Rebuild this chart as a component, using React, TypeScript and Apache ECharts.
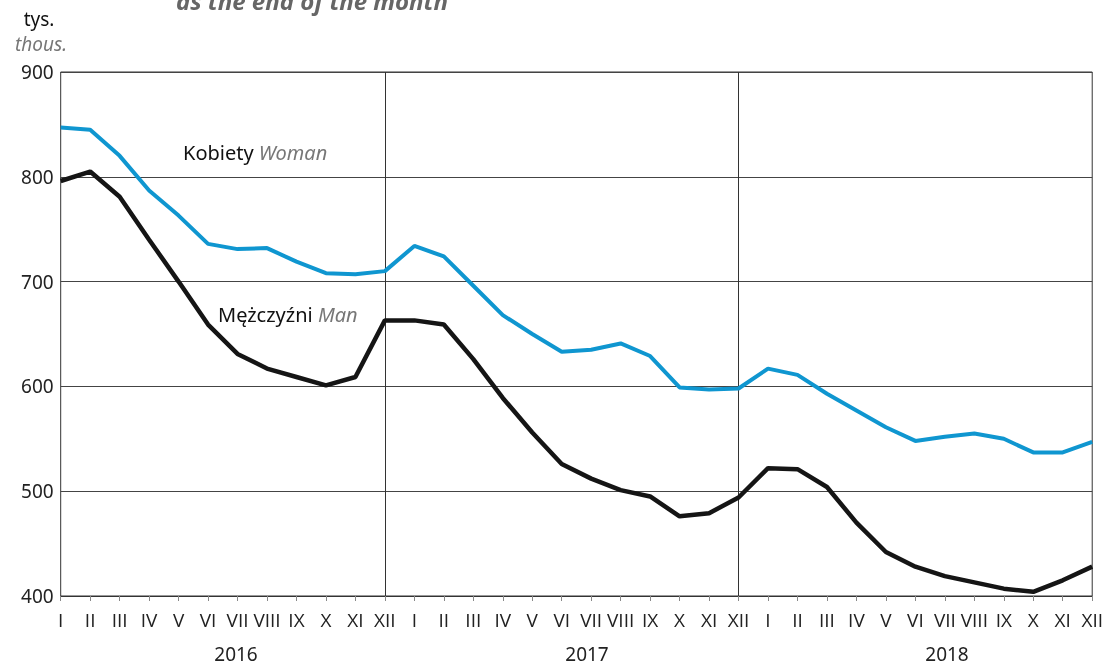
import React, { useEffect, useRef } from "react";
import * as echarts from "echarts";

const months = ["I", "II", "III", "IV", "V", "VI", "VII", "VIII", "IX", "X", "XI", "XII"];
const categories = [...months, ...months, ...months].map((m, i) => `${m}_${Math.floor(i / 12)}`);
const years = ["2016", "2017", "2018"];

const women = [
  847, 845, 820, 787, 763, 736, 731, 732, 719, 708, 707, 710,
  734, 724, 696, 668, 650, 633, 635, 641, 629, 599, 597, 598,
  617, 611, 593, 577, 561, 548, 552, 555, 550, 537, 537, 547,
];
const men = [
  796, 805, 781, 740, 700, 659, 631, 617, 609, 601, 609, 663,
  663, 659, 626, 589, 556, 526, 512, 501, 495, 476, 479, 494,
  522, 521, 504, 470, 442, 428, 419, 413, 407, 404, 415, 428,
];

const FONT = "Noto Sans";
const XFONT = "Open Sans";

export default function App() {
  const ref = useRef<HTMLDivElement>(null);
  useEffect(() => {
    if (!ref.current) return;
    const chart = echarts.init(ref.current, null, { renderer: "svg" });
    const yearX = [236, 587, 947];
    chart.setOption({
      animation: false,
      textStyle: { fontFamily: FONT },
      grid: {
        left: 60.7,
        right: 13,
        top: 72,
        bottom: 69,
        show: true,
        borderColor: "#333",
        borderWidth: 1,
        backgroundColor: "transparent",
      },
      xAxis: {
        type: "category",
        data: categories,
        boundaryGap: false,
        axisLine: { show: true, lineStyle: { color: "#333", width: 1 } },
        axisTick: {
          show: true,
          interval: 0,
          length: 5,
          lineStyle: { color: "#888" },
        },
        axisLabel: {
          interval: 0,
          fontSize: 19,
          color: "#222",
          fontFamily: XFONT,
          margin: 14,
          formatter: (v: string) => v.split("_")[0],
        },
        splitLine: {
          show: true,
          interval: (index: number) => index === 11 || index === 23,
          lineStyle: { color: "#333", width: 1 },
        },
      },
      yAxis: {
        type: "value",
        min: 400,
        max: 900,
        interval: 100,
        axisLine: { show: false },
        axisTick: { show: false },
        axisLabel: { fontSize: 19, color: "#222", fontFamily: FONT, margin: 7 },
        splitLine: { show: true, lineStyle: { color: "#444", width: 1 } },
      },
      series: [
        {
          name: "Kobiety",
          type: "line",
          data: women,
          symbol: "none",
          lineStyle: { color: "#0f96d0", width: 4 },
          z: 3,
        },
        {
          name: "Mężczyźni",
          type: "line",
          data: men,
          symbol: "none",
          lineStyle: { color: "#151515", width: 4.5 },
          z: 4,
        },
      ],
      graphic: [
        {
          type: "text",
          left: 176,
          top: -12,
          style: {
            text: "as the end of the month",
            font: `italic bold 24px ${FONT}`,
            fill: "#666",
          },
        },
        {
          type: "text",
          x: 39,
          y: 19,
          style: {
            text: "tys.",
            font: `19px ${FONT}`,
            fill: "#111",
            align: "center",
            verticalAlign: "middle",
          },
        },
        {
          type: "text",
          x: 41,
          y: 44,
          style: {
            text: "thous.",
            font: `italic 19px ${FONT}`,
            fill: "#777",
            align: "center",
            verticalAlign: "middle",
          },
        },
        {
          type: "text",
          x: 183,
          y: 152,
          style: {
            text: "{a|Kobiety }{b|Woman}",
            verticalAlign: "middle",
            rich: {
              a: { fontSize: 20, fontFamily: FONT, fill: "#111" },
              b: { fontStyle: "italic", fontSize: 20, fontFamily: FONT, fill: "#777" },
            },
          },
        },
        {
          type: "text",
          x: 218,
          y: 314,
          style: {
            text: "{a|Mężczyźni }{b|Man}",
            verticalAlign: "middle",
            rich: {
              a: { fontSize: 20, fontFamily: FONT, fill: "#111" },
              b: { fontStyle: "italic", fontSize: 20, fontFamily: FONT, fill: "#777" },
            },
          },
        },
        ...years.map((y, i) => ({
          type: "text",
          x: yearX[i],
          y: 654,
          style: {
            text: y,
            font: `19px ${FONT}`,
            fill: "#222",
            align: "center",
            verticalAlign: "middle",
          },
        })),
      ],
    });
    return () => chart.dispose();
  }, []);
  return (
    <div
      ref={ref}
      style={{ position: "fixed", left: 0, top: 0, width: 1106, height: 665 }}
    />
  );
}
